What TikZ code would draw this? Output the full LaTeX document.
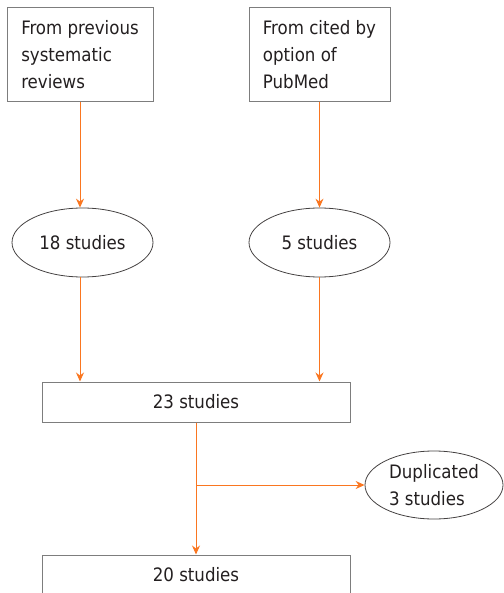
\documentclass[tikz,border=0pt]{standalone}
\usepackage{fontspec}
\setmainfont{DejaVu Sans Condensed}
\usetikzlibrary{arrows.meta, shapes.geometric}

\definecolor{flow}{RGB}{250,118,32}
\definecolor{rim}{RGB}{125,125,125}
\definecolor{ink}{RGB}{35,31,32}

\begin{document}
\begin{tikzpicture}[x = 1pt, y = -1pt, > = {Stealth[length = 9pt, width = 8pt, inset = 3pt]},
	every node/.style = {text = ink, font = \fontsize{18.5}{27}\selectfont},
	source/.style = {draw = rim, line width = 1pt, align = left, minimum height = 94pt, inner sep = 0pt},
	count/.style = {draw = ink!85, ellipse, line width = 0.8pt, minimum width = 141pt, minimum height = 69pt, inner sep = 0pt},
	pool/.style = {draw = rim, line width = 1pt, minimum width = 308pt, minimum height = 40pt, inner sep = 0pt},
	link/.style = {->, draw = flow, line width = 1pt}]

	% Canvas
	
	\useasboundingbox (0, 0) rectangle (503, 593);
	
	% Sources
	
	\node [source, minimum width = 146pt] (reviews) at (80, 55) {From previous\\systematic\\reviews};
	\node [source, minimum width = 141pt] (pubmed) at (319.5, 55) {From cited by\\option of\\PubMed};
	
	% Counts per source
	
	\node [count] (eighteen) at (82.5, 242.5) {18 studies};
	\node [count] (five) at (319.5, 242.5) {5 studies};
	
	% Pooled and final sets
	
	\node [pool] (pooled) at (196, 402) {23 studies};
	\node [pool] (final) at (196, 575) {20 studies};
	
	% Removed duplicates
	
	\node [count, minimum width = 138pt, minimum height = 68pt, align = left] (dupes) at (434, 485) {Duplicated\\3 studies};
	
	% Connectors
	
	\draw [link] (reviews.south) -- (reviews.south |- eighteen.north);
	\draw [link] (pubmed.south) -- (pubmed.south |- five.north);
	\draw [link] (eighteen.south -| reviews.south) -- (reviews.south |- pooled.north);
	\draw [link] (five.south -| pubmed.south) -- (pubmed.south |- pooled.north);
	\draw [link] (pooled.south) -- (final.north);
	
	\coordinate (split) at (pooled.south |- dupes.west);
	\draw [link] (split) -- (dupes.west);

\end{tikzpicture}
\end{document}
